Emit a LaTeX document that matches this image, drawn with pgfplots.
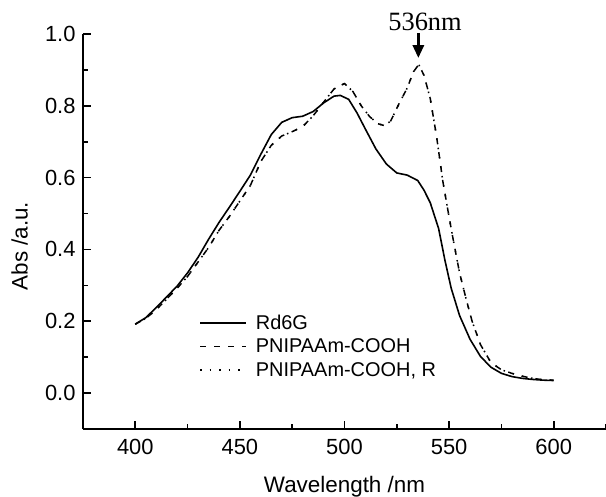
\documentclass[border=0pt]{standalone}
\usepackage{fontspec}
\setmainfont{Liberation Sans}
\newfontfamily\timesfont{Liberation Serif}
\usepackage{pgfplots}
\pgfplotsset{compat=1.18}
\usetikzlibrary{arrows.meta}
\pgfplotstableread{
x y
400 0.192
405 0.210
410 0.238
415 0.268
420 0.298
425 0.335
430 0.378
435 0.428
440 0.475
445 0.518
450 0.562
455 0.607
460 0.665
465 0.720
470 0.754
475 0.767
480 0.771
485 0.784
490 0.808
495 0.827
498 0.829
502 0.818
506 0.780
510 0.735
515 0.680
520 0.638
525 0.613
530 0.607
535 0.592
538 0.565
541 0.530
545 0.458
548 0.370
551 0.292
555 0.216
560 0.150
565 0.102
570 0.072
575 0.055
580 0.046
585 0.041
590 0.038
595 0.036
600 0.035
}\rdsixg
\pgfplotstableread{
x y
400 0.192
405 0.208
410 0.232
415 0.262
420 0.292
425 0.325
430 0.365
435 0.405
440 0.453
445 0.492
450 0.535
455 0.578
460 0.645
465 0.690
470 0.716
475 0.728
480 0.742
485 0.772
490 0.810
495 0.847
500 0.862
504 0.840
508 0.800
512 0.770
516 0.750
519 0.745
522 0.757
526 0.805
530 0.850
533 0.895
535.5 0.915
538 0.885
541 0.820
544 0.715
547 0.590
550 0.490
552 0.426
555 0.335
558 0.265
561 0.200
565 0.135
570 0.085
575 0.065
580 0.055
585 0.047
590 0.041
595 0.037
600 0.036
}\pnipa
\pgfplotstableread{
x y
400 0.192
405 0.208
410 0.232
415 0.262
420 0.292
425 0.325
430 0.365
435 0.405
440 0.453
445 0.492
450 0.535
455 0.578
460 0.645
465 0.690
470 0.716
475 0.728
480 0.742
485 0.772
490 0.810
495 0.847
500 0.862
504 0.840
508 0.800
512 0.770
516 0.750
519 0.745
522 0.757
526 0.805
530 0.850
533 0.895
535.5 0.915
538 0.885
541 0.820
544 0.715
547 0.590
550 0.490
552 0.426
555 0.335
558 0.265
561 0.200
565 0.135
570 0.085
575 0.065
580 0.055
585 0.047
590 0.041
595 0.037
600 0.036
}\pnipar
\begin{document}
\begin{tikzpicture}
\begin{axis}[
  scale only axis, width=523bp, height=395bp,
  xmin=375, xmax=625, ymin=-0.1, ymax=1.0,
  axis x line*=bottom, axis y line*=left,
  axis line style={line width=1.6bp, -},
  xtick={400,450,500,550,600}, minor xtick={375,425,475,525,575,625},
  ytick={0,0.2,0.4,0.6,0.8,1.0}, minor ytick={-0.1,0.1,0.3,0.5,0.7,0.9},
  tick align=inside,
  major tick length=8bp, minor tick length=5bp,
  every tick/.style={black, line width=1.6bp},
  /pgf/number format/assume math mode=true,
  yticklabel style={/pgf/number format/fixed, /pgf/number format/fixed zerofill, /pgf/number format/precision=1, xshift=-4bp},
  xticklabel style={/pgf/number format/1000 sep={}, yshift=-7bp},
  ticklabel style={font=\fontsize{22}{25}\selectfont},
  xlabel={Wavelength /nm}, ylabel={Abs /a.u.},
  xlabel style={font=\fontsize{22.5}{25}\selectfont, at={(rel axis cs:0.5,0)}, anchor=base, yshift=-63bp},
  ylabel style={font=\fontsize{22.5}{25}\selectfont, at={(axis description cs:-0.121,0.463)}, anchor=center},
  clip=false,
  legend cell align=left,
  legend image code/.code={\draw[line width=1.6bp,#1] (0bp,0bp) -- (46bp,0bp);},
  legend style={at={(rel axis cs:0.222,0.292)}, anchor=north west, draw=none, fill=none,
    font=\fontsize{20}{22}\selectfont, inner sep=0pt, row sep=6bp,
    nodes={inner sep=1bp},
    /tikz/every odd column/.append style={column sep=8bp}},
]
\addplot[black, line width=1.6bp] table {\rdsixg};
\addlegendentry{Rd6G}
\addplot[black, line width=1.5bp, dash pattern=on 6bp off 8bp] table {\pnipa};
\addlegendentry{PNIPAAm-COOH}
\addplot[black, line width=1.5bp, dash pattern=on 1.5bp off 8bp] table {\pnipar};
\addlegendentry{PNIPAAm-COOH, R}
\node[font=\timesfont\fontsize{26.5}{30}\selectfont, anchor=base] at (axis cs:538.5,1.011) {536nm};
\draw[line width=3bp, -{Triangle[width=11bp,length=13bp]}] (axis cs:535.3,1.003) -- (axis cs:535.3,0.933);
\end{axis}
\pgfresetboundingbox
\path[use as bounding box] (current axis.south west) ++(-83bp,-68bp) rectangle ++(606bp,497bp);
\end{tikzpicture}
\end{document}
